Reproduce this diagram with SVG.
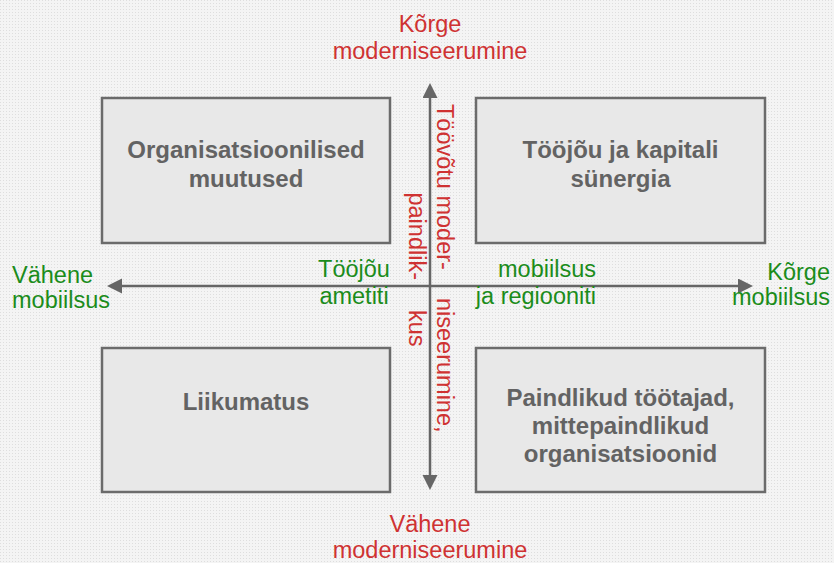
<svg xmlns="http://www.w3.org/2000/svg" width="834" height="563" viewBox="0 0 834 563">
  <style>
    .box { fill: #e8e8e8; stroke: #6b6b6b; stroke-width: 2.5; }
    .boxlabel { font-family: "Liberation Sans", Arial, sans-serif; font-size: 24px; font-weight: bold; fill: #636363; text-anchor: middle; }
    .red { font-family: "Liberation Sans", Arial, sans-serif; font-size: 23.5px; fill: #cf3232; }
    .green { font-family: "Liberation Sans", Arial, sans-serif; font-size: 23.5px; fill: #1b8c1b; }
    .axis { stroke: #666666; stroke-width: 2.5; fill: none; }
  </style>
  <defs>
    <pattern id="dots" width="3" height="3" patternUnits="userSpaceOnUse">
      <rect width="3" height="3" fill="#f4f4f4"/>
      <rect width="1" height="1" fill="#dedede"/>
    </pattern>
    <marker id="head" markerUnits="userSpaceOnUse" markerWidth="16" markerHeight="16" refX="0" refY="7.5" orient="auto-start-reverse" viewBox="0 0 16 16">
      <path d="M0,0 L15,7.5 L0,15 z" fill="#666666"/>
    </marker>
  </defs>

  <!-- background -->
  <rect width="834" height="563" fill="url(#dots)"/>

  <!-- quadrants -->
  <g id="node-org">
    <rect class="box" x="102" y="98" width="288" height="145"/>
    <text class="boxlabel" x="246" y="158">Organisatsioonilised</text>
    <text class="boxlabel" x="246" y="187">muutused</text>
  </g>
  <g id="node-synergy">
    <rect class="box" x="476" y="98" width="289" height="145"/>
    <text class="boxlabel" x="620.5" y="158">Tööjõu ja kapitali</text>
    <text class="boxlabel" x="620.5" y="187">sünergia</text>
  </g>
  <g id="node-immobility">
    <rect class="box" x="102" y="348" width="288" height="144"/>
    <text class="boxlabel" x="246" y="410">Liikumatus</text>
  </g>
  <g id="node-flexible">
    <rect class="box" x="476" y="348" width="289" height="144"/>
    <text class="boxlabel" x="620.5" y="406">Paindlikud töötajad,</text>
    <text class="boxlabel" x="620.5" y="434">mittepaindlikud</text>
    <text class="boxlabel" x="620.5" y="462">organisatsioonid</text>
  </g>

  <!-- axes -->
  <g id="connectors">
    <line class="axis" x1="430" y1="98" x2="430" y2="475" marker-start="url(#head)" marker-end="url(#head)"/>
    <line class="axis" x1="122" y1="286" x2="738" y2="286" marker-start="url(#head)" marker-end="url(#head)"/>
  </g>

  <!-- vertical axis labels -->
  <g id="label-top">
    <text class="red" x="430" y="32" text-anchor="middle">Kõrge</text>
    <text class="red" x="430" y="59" text-anchor="middle">moderniseerumine</text>
  </g>
  <g id="label-bottom">
    <text class="red" x="430" y="532" text-anchor="middle">Vähene</text>
    <text class="red" x="430" y="558" text-anchor="middle">moderniseerumine</text>
  </g>
  <g id="label-axis-vertical">
    <text class="red" transform="translate(437,104) rotate(90)">Töövõtu moder-</text>
    <text class="red" transform="translate(437,298) rotate(90)">niseerumine,</text>
    <text class="red" transform="translate(409,280) rotate(90)" text-anchor="end">paindlik-</text>
    <text class="red" transform="translate(409,310) rotate(90)">kus</text>
  </g>

  <!-- horizontal axis labels -->
  <g id="label-left">
    <text class="green" x="12" y="283">Vähene</text>
    <text class="green" x="12" y="308">mobiilsus</text>
  </g>
  <g id="label-right">
    <text class="green" x="830" y="280" text-anchor="end">Kõrge</text>
    <text class="green" x="830" y="305" text-anchor="end">mobiilsus</text>
  </g>
  <g id="label-axis-horizontal">
    <text class="green" x="354" y="277" text-anchor="middle">Tööjõu</text>
    <text class="green" x="354" y="304" text-anchor="middle">ametiti</text>
    <text class="green" x="596" y="277" text-anchor="end">mobiilsus</text>
    <text class="green" x="596" y="304" text-anchor="end">ja regiooniti</text>
  </g>
</svg>
